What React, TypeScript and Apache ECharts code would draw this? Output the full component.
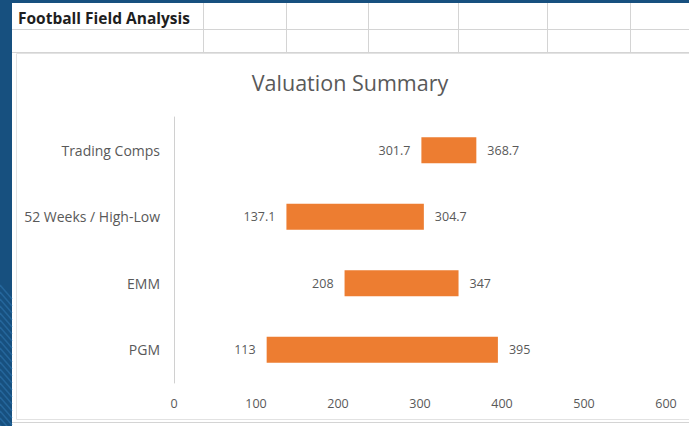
import React, { useEffect, useRef } from "react";
import * as echarts from "echarts";

const categories = ["Trading Comps", "52 Weeks / High-Low", "EMM", "PGM"];
const lowValues = [301.7, 137.1, 208, 113];
const highValues = [368.7, 304.7, 347, 395];
const xTicks = { min: 0, max: 600, interval: 100 };

const FONT = "'Open Sans', Lato, sans-serif";
const GRAY_TEXT = "#595959";
const ORANGE = "#ED7D31";
const BLUE = "#17507f";
const CELL_LINE = "#d4d4d4";

export default function App() {
  const ref = useRef<HTMLDivElement>(null);

  useEffect(() => {
    if (!ref.current) return;
    const chart = echarts.init(ref.current, undefined, { renderer: "svg" });

    const colLines = [203, 286, 368, 458, 547, 630];
    const graphics: any[] = [];
    graphics.push({
      type: "rect",
      z: -10,
      shape: { x: 12, y: 3, width: 677, height: 423 },
      style: { fill: "#ffffff" },
      silent: true,
    });
    for (let y = 285; y < 440; y += 7) {
      graphics.push({
        type: "line",
        z: -10,
        shape: { x1: 0, y1: y, x2: 12, y2: y + 14 },
        style: { stroke: "#2f74ad", lineWidth: 1.5, opacity: 0.6 },
        silent: true,
      });
    }
    [29.5, 52.5].forEach((y) =>
      graphics.push({
        type: "line",
        z: -9,
        shape: { x1: 12, y1: y, x2: 689, y2: y },
        style: { stroke: CELL_LINE, lineWidth: 1 },
        silent: true,
      })
    );
    colLines.forEach((x) =>
      graphics.push({
        type: "line",
        z: -9,
        shape: { x1: x + 0.5, y1: 3, x2: x + 0.5, y2: 53 },
        style: { stroke: CELL_LINE, lineWidth: 1 },
        silent: true,
      })
    );
    graphics.push({
      type: "line",
      z: -9,
      shape: { x1: 12, y1: 422.5, x2: 689, y2: 422.5 },
      style: { stroke: CELL_LINE, lineWidth: 1 },
      silent: true,
    });
    graphics.push({
      type: "rect",
      z: -8,
      shape: { x: 16.5, y: 53.5, width: 680, height: 366 },
      style: { fill: "#ffffff", stroke: "#e2e2e2", lineWidth: 1 },
      silent: true,
    });
    graphics.push({
      type: "text",
      z: 5,
      x: 18,
      y: 18,
      style: {
        text: "Football Field Analysis",
        fontFamily: FONT,
        fontWeight: "bold",
        fontSize: 15.5,
        fill: "#1e1e1e",
        textAlign: "left",
        textVerticalAlign: "middle",
      },
    });
    graphics.push({
      type: "text",
      z: 5,
      x: 350,
      y: 82,
      style: {
        text: "Valuation Summary",
        fontFamily: FONT,
        fontSize: 21.5,
        fill: GRAY_TEXT,
        textAlign: "center",
        textVerticalAlign: "middle",
      },
    });

    const spans = highValues.map((h, i) => +(h - lowValues[i]).toFixed(4));

    chart.setOption({
      animation: false,
      backgroundColor: BLUE,
      textStyle: { fontFamily: FONT },
      graphic: graphics,
      grid: { left: 174, top: 117, width: 492, height: 266 },
      xAxis: {
        type: "value",
        min: xTicks.min,
        max: xTicks.max,
        interval: xTicks.interval,
        axisLine: { show: false },
        axisTick: { show: false },
        splitLine: { show: false },
        axisLabel: { color: GRAY_TEXT, fontSize: 12.5, margin: 14, fontFamily: FONT },
      },
      yAxis: {
        type: "category",
        data: categories,
        inverse: true,
        axisLine: { show: true, lineStyle: { color: "#d0d0d0", width: 1 } },
        axisTick: { show: false },
        splitLine: { show: false },
        axisLabel: { color: GRAY_TEXT, fontSize: 14, margin: 14, fontFamily: FONT },
      },
      series: [
        {
          name: "Low",
          type: "bar",
          stack: "range",
          data: lowValues,
          barWidth: 26,
          itemStyle: { color: "transparent" },
          label: {
            show: true,
            position: "insideRight",
            distance: 11,
            color: GRAY_TEXT,
            fontSize: 12.5,
            fontFamily: FONT,
            formatter: (p: any) => String(lowValues[p.dataIndex]),
          },
          emphasis: { disabled: true },
        },
        {
          name: "Range",
          type: "bar",
          stack: "range",
          data: spans,
          barWidth: 26,
          itemStyle: { color: ORANGE },
          label: {
            show: true,
            position: "right",
            distance: 11,
            color: GRAY_TEXT,
            fontSize: 12.5,
            fontFamily: FONT,
            formatter: (p: any) => String(highValues[p.dataIndex]),
          },
          emphasis: { disabled: true },
        },
      ],
    });

    return () => chart.dispose();
  }, []);

  return (
    <div
      ref={ref}
      style={{ position: "absolute", left: 0, top: 0, width: 689, height: 426 }}
    />
  );
}
